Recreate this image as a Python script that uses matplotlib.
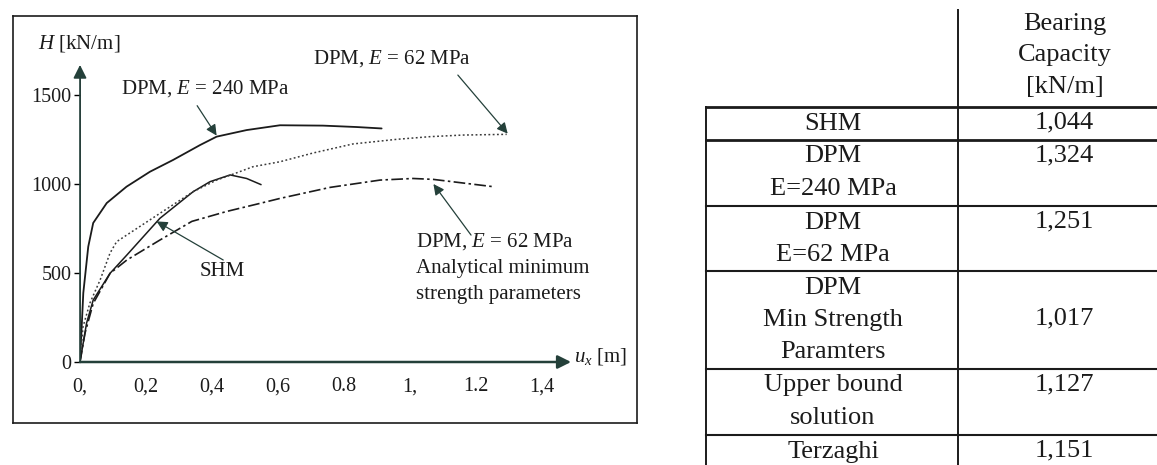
import matplotlib
matplotlib.use("Agg")
import matplotlib.pyplot as plt
from matplotlib.lines import Line2D

# H [kN/m] vs u_x [m]
u_dpm240 = [0, 0.010, 0.025, 0.040, 0.081, 0.141, 0.212, 0.282, 0.364, 0.414, 0.505, 0.606, 0.736, 0.839, 0.914]
h_dpm240 = [0, 388, 648, 781, 893, 985, 1069, 1135, 1219, 1266, 1303, 1330, 1328, 1320, 1312]

u_dpm62 = [0, 0.009, 0.030, 0.061, 0.091, 0.111, 0.242, 0.343, 0.414, 0.475, 0.524, 0.606, 0.706, 0.827, 0.960,
           1.061, 1.161, 1.293]
h_dpm62 = [0, 197, 331, 461, 612, 676, 835, 957, 1022, 1063, 1097, 1125, 1174, 1225, 1251, 1266, 1275, 1279]

u_shm = [0, 0.020, 0.040, 0.091, 0.142, 0.242, 0.343, 0.394, 0.455, 0.505, 0.548]
h_shm = [0, 219, 348, 498, 601, 807, 957, 1013, 1051, 1031, 997]

u_min = [0, 0.015, 0.040, 0.091, 0.142, 0.242, 0.339, 0.445, 0.545, 0.606, 0.758, 0.909, 1.009, 1.070, 1.252]
h_min = [0, 161, 329, 498, 573, 685, 790, 846, 891, 919, 981, 1022, 1031, 1026, 985]

x_ticks = [0, 0.2, 0.4, 0.6, 0.8, 1.0, 1.2, 1.4]
x_ticklabels = ['0,', '0,2', '0,4', '0,6', '0.8', '1,', '1.2', '1,4']
y_ticks = [0, 500, 1000, 1500]

# table on the right
row_names = ['SHM', 'DPM\nE=240 MPa', 'DPM\nE=62 MPa', 'DPM\nMin Strength\nParamters',
             'Upper bound\nsolution', 'Terzaghi']
capacity = ['1,044', '1,324', '1,251', '1,017', '1,127', '1,151']
header = ['Bearing', 'Capacity', '[kN/m]']

plt.rcParams['font.family'] = ['Liberation Serif', 'DejaVu Serif']
plt.rcParams['mathtext.fontset'] = 'custom'
plt.rcParams['mathtext.rm'] = 'Liberation Serif'
plt.rcParams['mathtext.it'] = 'Liberation Serif:italic'

W, H = 1157, 465
ink = '#1b1b1b'
head_col = '#24403a'

fig = plt.figure(figsize=(W / 100, H / 100), dpi=100)


def fx(px):
    return px / W


def fy(py):
    return 1 - py / H


# plot axes: x=0 at px 80, 330 px per metre; H=0 at py 362, 0.178 px per kN/m
x0, y0 = 80, 362
ax = fig.add_axes([fx(x0), fy(y0), 1.5 * 330 / W, 1680 * 0.178 / H])
ax.set_xlim(0, 1.5)
ax.set_ylim(0, 1680)
for s in ax.spines.values():
    s.set_visible(False)
ax.patch.set_alpha(0)

ax.plot(u_dpm240, h_dpm240, color=ink, lw=1.3, solid_capstyle='round')
ax.plot(u_shm, h_shm, color=ink, lw=1.1)
ax.plot(u_dpm62, h_dpm62, color='#3a3a3a', lw=1.1, linestyle=(0, (1.2, 1.6)))
ax.plot(u_min, h_min, color=ink, lw=1.2, linestyle=(0, (7, 2, 1.5, 2)))

# axis arrows
arrow_kw = dict(arrowstyle='-|>', mutation_scale=20, color=head_col, shrinkA=0, shrinkB=0)
ax.annotate('', xy=(1.488, 0), xytext=(0, 0), annotation_clip=False,
            arrowprops=dict(lw=1.8, **arrow_kw))
ax.annotate('', xy=(0, 1669), xytext=(0, 0), annotation_clip=False,
            arrowprops=dict(lw=1.2, **arrow_kw))
ax.plot([1.40, 1.46], [0, 0], color=ink, lw=1.8)
ax.plot([0, 0], [0, 1600], color=ink, lw=1.2)
ax.plot([0, 1.40], [0, 0], color=ink, lw=1.8)

ax.set_xticks(x_ticks)
ax.set_xticklabels(x_ticklabels)
ax.set_yticks(y_ticks)
ax.tick_params(axis='x', length=0, pad=11, labelsize=14.5, labelcolor=ink)
ax.tick_params(axis='y', direction='out', length=4, width=1, pad=2, labelsize=14.5, labelcolor=ink)

fig.text(fx(38), fy(43), '$H$ [kN/m]', fontsize=15, color=ink, va='center', ha='left')
fig.text(fx(574), fy(356), '$u_x$ [m]', fontsize=15, color=ink, va='center', ha='left')

# curve labels and pointers
lab = dict(fontsize=15, color=ink, va='center', ha='left')
ptr = dict(arrowstyle='-|>', mutation_scale=16, color=head_col, lw=0.9, shrinkA=0, shrinkB=0)
ax.text(0.124, 1539, 'DPM, $E$ = 240 MPa', clip_on=False, **lab)
ax.annotate('', xy=(0.414, 1272), xytext=(0.355, 1440), arrowprops=ptr, annotation_clip=False)

ax.text(0.706, 1705, 'DPM, $E$ = 62 MPa', clip_on=False, **lab)
ax.annotate('', xy=(1.296, 1283), xytext=(1.145, 1612), arrowprops=ptr, annotation_clip=False)

ax.text(0.364, 506, 'SHM', **lab)
ax.annotate('', xy=(0.232, 790), xytext=(0.434, 573), arrowprops=ptr)

ax.text(1.018, 676, 'DPM, $E$ = 62 MPa', **lab)
ax.text(1.018, 526, 'Analytical minimum', **lab)
ax.text(1.018, 382, 'strength parameters', **lab)
ax.annotate('', xy=(1.071, 1000), xytext=(1.185, 713), arrowprops=ptr)

# frame round the plot
for (xa, ya, xb, yb) in [(13, 16, 637, 16), (13, 16, 13, 423), (637, 16, 637, 423), (13, 423, 637, 423)]:
    fig.add_artist(Line2D([fx(xa), fx(xb)], [fy(ya), fy(yb)], color=ink, lw=1.2))

# table
col_div, tab_left, tab_right = 958, 706, 1157
row_tops = [107, 140, 206, 271, 369, 435]
fig.add_artist(Line2D([fx(col_div)] * 2, [fy(10), fy(H)], color=ink, lw=1.4))
fig.add_artist(Line2D([fx(tab_left)] * 2, [fy(row_tops[0]), fy(H)], color=ink, lw=1.4))
for i, yt in enumerate(row_tops):
    fig.add_artist(Line2D([fx(tab_left), fx(tab_right)], [fy(yt)] * 2, color=ink,
                          lw=2.0 if i < 2 else 1.5))

tab_txt = dict(fontsize=19, color=ink, ha='center', va='center')
for j, t in enumerate(header):
    fig.text(fx(1065), fy(24 + 31.5 * j), t, **tab_txt)

for yt, name, val in zip(row_tops, row_names, capacity):
    lines = name.split('\n')
    for k, t in enumerate(lines):
        fig.text(fx(833), fy(yt + 16.5 + 32 * k), t, **tab_txt)
    k = 1 if len(lines) == 3 else 0
    fig.text(fx(1064), fy(yt + 15 + 32 * k), val, **tab_txt)

fig.savefig('out.png', dpi=100)
